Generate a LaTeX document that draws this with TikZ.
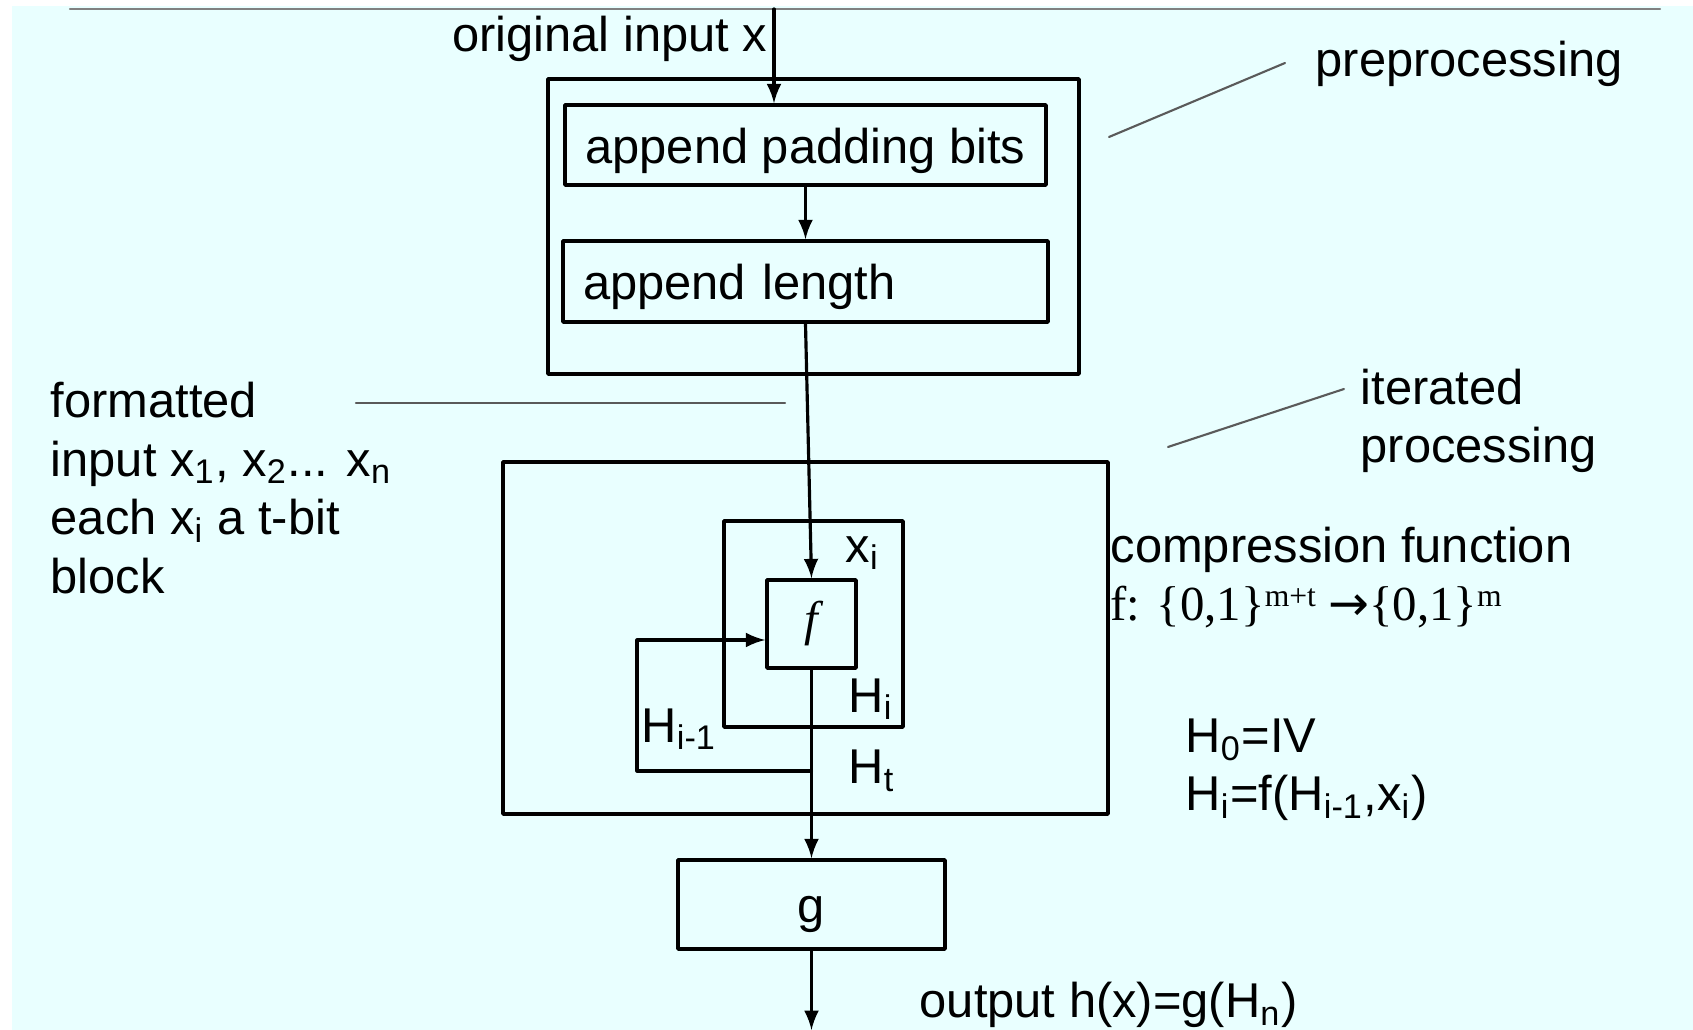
\documentclass[tikz,border=0pt]{standalone}
\usepackage{fontspec}
\setmainfont{Liberation Sans}
\newfontfamily\timesf{Liberation Serif}
\newfontfamily\arrowf{DejaVu Sans}
\definecolor{bgcyan}{RGB}{233,255,255}
\definecolor{leadgray}{RGB}{90,90,90}
\begin{document}
\begin{tikzpicture}[line cap=round,line join=round,>=latex,
    font=\fontsize{13.9}{16.7}\selectfont,
    blk/.style={draw,line width=1pt,inner sep=0pt},
    blktxt/.style={blk,text height=1.26em,text depth=0.21em},
    lbl/.style={anchor=west,inner sep=0pt},
    lead/.style={draw=leadgray,line width=0.6pt}]
  \useasboundingbox (0,0) rectangle (16.93,10.30);
  \fill[white] (0,0) rectangle (16.93,10.30);
  \fill[bgcyan] (0.12,0) rectangle (16.93,10.24);
  \draw[gray,line width=0.7pt] (0.70,10.21) -- (16.60,10.21);
  % preprocessing
  \node[blk,minimum width=5.31cm,minimum height=2.95cm] (pre) at (8.135,8.035) {};
  \node[blktxt,minimum width=4.81cm,minimum height=0.80cm] (pad) at (8.055,8.85) {append padding bits};
  \node[blktxt,minimum height=0.81cm,inner xsep=0.2cm,text width=4.45cm,align=left] (len) at (8.055,7.485) {append length};
  \coordinate (in) at (7.74,10.21);
  \node[anchor=east,inner sep=0pt] (inlbl) at (7.68,9.91) {original input x};
  \draw[line width=0.9pt,-latex] (in) -- (in |- pad.north);
  \draw[line width=0.9pt,-latex] (pad) -- (len);
  % iterated processing
  \node[blk,minimum width=6.05cm,minimum height=3.52cm] (iter) at (8.055,3.92) {};
  \node[blk,minimum width=1.79cm,minimum height=2.06cm] (comp) at (8.135,4.06) {};
  \node[blk,minimum width=0.89cm,minimum height=0.88cm] (f) at (8.115,4.06) {\timesf\itshape f};
  \node[blktxt,minimum width=2.67cm,minimum height=0.89cm] (g) at (8.115,1.255) {g};
  \draw[line width=0.9pt,-latex] (len.south) -- (f.north);
  \draw[line width=0.9pt,-latex] (f) -- (g);
  \coordinate (loop) at (8.115,2.59);
  \coordinate (fb) at (6.37,3.90);
  \draw[line width=0.9pt,-latex] (loop) -| (fb) -- (fb -| f.west);
  \coordinate (out) at (8.115,0);
  \draw[line width=0.9pt,-latex] (g) -- (out);
  \node[lbl] (xi) at (8.45,4.77) {x\textsubscript{i}};
  \node[lbl] (hi) at (8.48,3.31) {H\textsubscript{i}};
  \node[lbl] (him) at (6.41,3.01) {H\textsubscript{i-1}};
  \node[lbl] (ht) at (8.48,2.59) {H\textsubscript{t}};
  % side texts
  \node[lbl] (prelbl) at (13.15,9.66) {preprocessing};
  \coordinate (prea) at (11.09,8.93);
  \coordinate (preb) at (12.85,9.67);
  \draw[lead] (prea) -- (preb);
  \node[lbl,align=left] (iterlbl) at (13.60,6.09) {iterated\\processing};
  \coordinate (itera) at (11.68,5.83);
  \coordinate (iterb) at (13.44,6.41);
  \draw[lead] (itera) -- (iterb);
  \node[lbl,align=left] (fmt) at (0.50,5.42) {formatted\\input x\textsubscript{1}, x\textsubscript{2}... x\textsubscript{n}\\each x\textsubscript{i} a t-bit\\block};
  \coordinate (fmta) at (3.56,6.27);
  \coordinate (fmtb) at (7.85,6.27);
  \draw[lead] (fmta) -- (fmtb);
  \node[lbl] (cmplbl) at (11.10,4.80) {compression function};
  \node[lbl] (fdef) at (11.10,4.23) {\timesf f: \{0,1\}\raisebox{0.28em}{\fontsize{9}{9}\selectfont m+t} {\arrowf →}\{0,1\}\raisebox{0.28em}{\fontsize{9}{9}\selectfont m}};
  \node[lbl] (h0) at (11.85,2.90) {H\textsubscript{0}=IV};
  \node[lbl] (hrec) at (11.85,2.32) {H\textsubscript{i}=f(H\textsubscript{i-1},x\textsubscript{i})};
  \node[lbl] (outlbl) at (9.19,0.25) {output h(x)=g(H\textsubscript{n})};
\end{tikzpicture}
\end{document}
